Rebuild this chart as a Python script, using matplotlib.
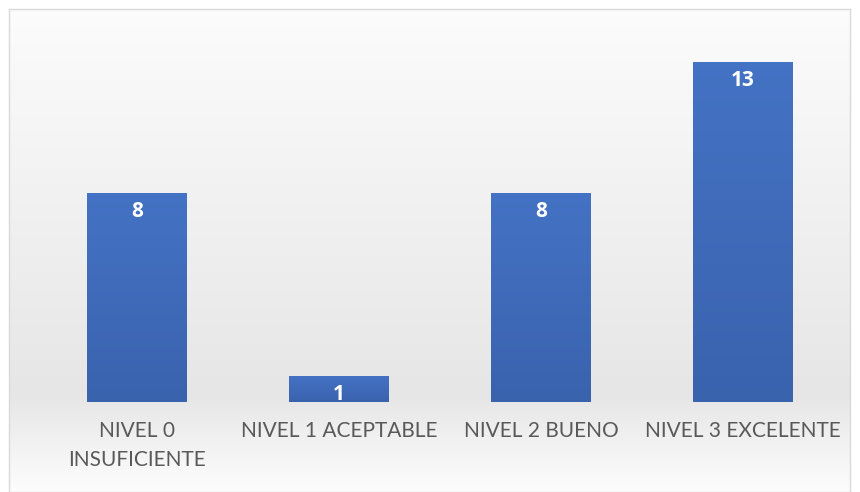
import numpy as np
import matplotlib
matplotlib.use('Agg')
import matplotlib.pyplot as plt
from matplotlib.colors import LinearSegmentedColormap

categories = ['NIVEL 0\nINSUFICIENTE', 'NIVEL 1 ACEPTABLE', 'NIVEL 2 BUENO', 'NIVEL 3 EXCELENTE']
values = [8, 1, 8, 13]

plt.rcParams['font.family'] = ['Lato', 'DejaVu Sans']

W, H = 860, 492
fig = plt.figure(figsize=(W / 100, H / 100), dpi=100)
fig.patch.set_facecolor('white')

# fondo del área del gráfico con degradado vertical
bg = fig.add_axes([9 / W, 0, 841 / W, 1 - 9 / H], zorder=-1)
bg_cmap = LinearSegmentedColormap.from_list(
    'bg', [(0.0, '#fcfcfc'), (0.8, '#e6e6e6'), (1.0, '#fdfdfd')])
grad = np.linspace(0, 1, 256).reshape(-1, 1)
bg.imshow(grad, aspect='auto', cmap=bg_cmap, extent=[0, 1, 0, 1], origin='upper')
bg.set_xlim(0, 1)
bg.set_ylim(0, 1)
bg.set_xticks([])
bg.set_yticks([])
for s in bg.spines.values():
    s.set_color('#d9d9d9')
    s.set_linewidth(1)

ax = fig.add_axes([36 / W, 90 / H, 808 / W, 366 / H])
ax.patch.set_alpha(0)
x = np.arange(len(categories))
bars = ax.bar(x, values, width=0.495, color='#4472c4', zorder=2)

# degradado azul dentro de cada barra
bar_cmap = LinearSegmentedColormap.from_list('bar', ['#3a63ae', '#4472c4'])
for b in bars:
    x0, y0 = b.get_x(), b.get_y()
    w, h = b.get_width(), b.get_height()
    im = ax.imshow(np.linspace(0, 1, 64).reshape(-1, 1), cmap=bar_cmap, aspect='auto',
                   extent=[x0, x0 + w, y0, y0 + h], origin='lower', zorder=3)
    im.set_clip_path(b)

for b, v in zip(bars, values):
    ax.annotate(str(v), (b.get_x() + b.get_width() / 2, b.get_height()),
                xytext=(0, -6), textcoords='offset points', ha='center', va='top',
                color='white', fontsize=15, fontweight='bold',
                family=['Open Sans', 'DejaVu Sans'], zorder=4)

ax.set_xlim(-0.5, len(categories) - 0.5)
ax.set_ylim(0, 14)
ax.set_xticks(x)
ax.set_xticklabels(categories, fontsize=15, color='#595959', linespacing=1.55)
ax.tick_params(axis='x', length=0, pad=14)
ax.set_yticks([])
for s in ax.spines.values():
    s.set_visible(False)

plt.savefig('out.png', dpi=100)
plt.close()
